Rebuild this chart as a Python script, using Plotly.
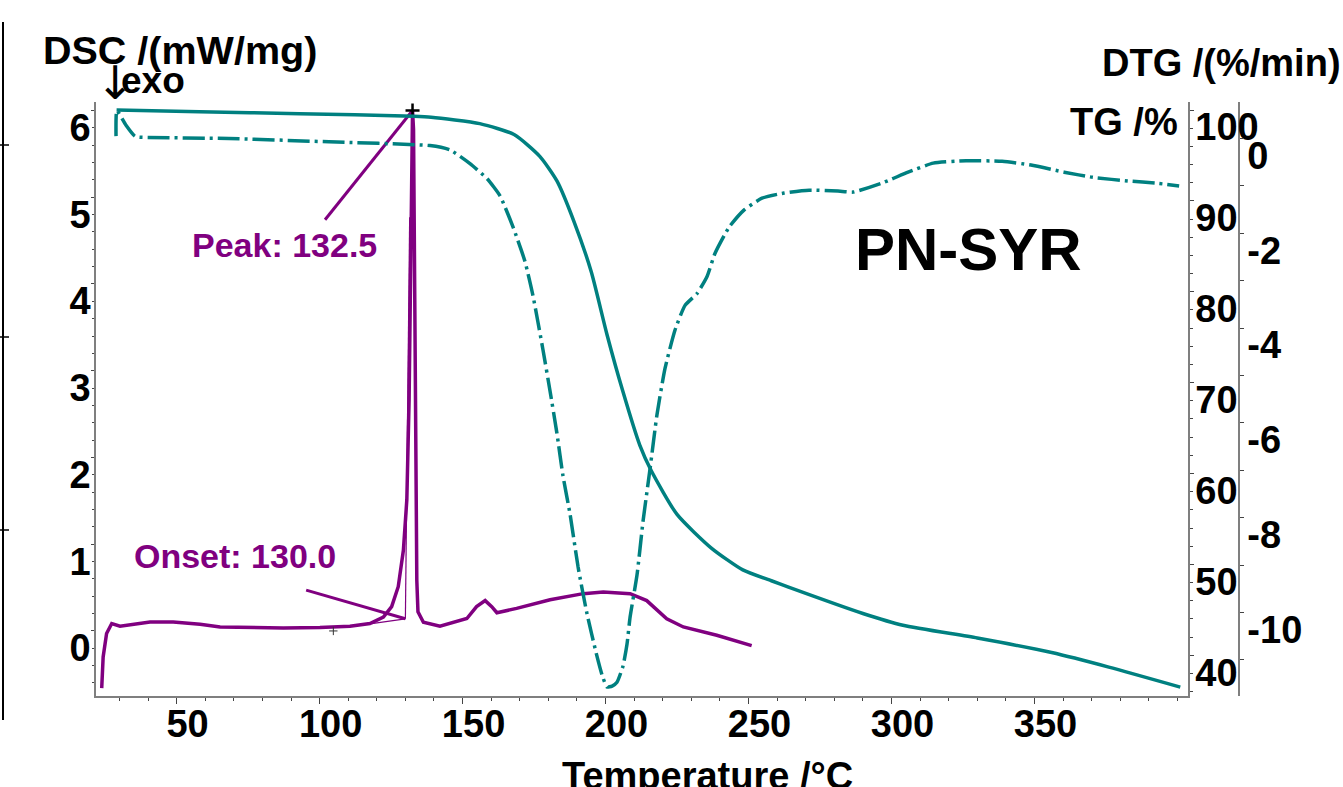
import plotly.graph_objects as go

# ---------------- data ----------------
temp_tg = [29, 58, 93, 133, 139, 156, 168, 177, 183, 189, 195, 200.5, 206, 212, 216,
           225, 237, 248, 258, 264, 290, 304, 330, 356, 376, 401]
tg = [100.0, 99.8, 99.6, 99.3, 99.2, 98.5, 97.3, 94.9, 92.2, 87.7, 82.2, 75.3, 69.1, 63.1, 60.3,
      55.5, 51.8, 49.4, 48.2, 47.5, 44.6, 43.3, 41.9, 40.3, 38.7, 36.5]

temp_dtg = [28.8, 29.1, 32.3, 35.4, 36.8, 68.3, 103.3, 138.6, 145.6, 152.6, 158.6, 163.1, 167.6,
            171.8, 174.6, 178.1, 180.6, 183.0, 185.1, 187.6, 190.4, 193.5, 197.0, 198.8, 200.5,
            202.3, 204.0, 206.1, 207.5, 208.6, 211.0, 213.1, 215.6, 218.0, 220.8, 224.3, 227.8,
            232.0, 235.5, 238.3, 243.2, 248.4, 254.7, 262.4, 271.2, 281.3, 286.6, 296.7, 305.8,
            314.6, 326.1, 338.7, 348.8, 360.4, 370.5, 383.5, 392.2, 400.6]
dtg = [0.05, 0.59, 0.28, 0.05, 0.03, 0.0, -0.07, -0.15, -0.24, -0.53, -0.85, -1.21, -1.86,
       -2.59, -3.31, -4.45, -5.33, -6.22, -7.11, -7.93, -9.04, -10.02, -10.92, -11.32, -11.57,
       -11.55, -11.47, -11.13, -10.67, -10.09, -9.21, -8.08, -6.95, -5.82, -4.85, -4.04, -3.52,
       -3.27, -2.91, -2.42, -1.87, -1.51, -1.26, -1.15, -1.09, -1.11, -1.13, -0.94, -0.71,
       -0.52, -0.47, -0.48, -0.56, -0.71, -0.82, -0.90, -0.94, -1.00]

temp_dsc = [23.8, 24.3, 25.5, 27.3, 30.2, 34.8, 40.7, 48.8, 58.2, 65.2, 75.6, 87.3, 100.1, 110.6,
            117.6, 122.3, 125.2, 127.5, 129.3, 130.5, 131.3, 131.8, 132.3, 132.5, 132.85, 133.2,
            133.6, 134.0, 134.4, 136.3, 142.1, 151.5, 154.9, 157.9, 160.2, 162.0, 168.9, 180.6,
            192.2, 199.2, 208.6, 214.4, 221.4, 227.2, 238.9, 251.1]
dsc = [-0.66, -0.30, -0.03, 0.085, 0.054, 0.077, 0.104, 0.104, 0.077, 0.046, 0.039, 0.035, 0.039,
       0.054, 0.085, 0.16, 0.28, 0.51, 0.93, 1.51, 2.66, 4.39, 5.78, 6.00, 5.78, 3.81, 1.51, 0.58,
       0.22, 0.10, 0.054, 0.143, 0.28, 0.35, 0.28, 0.21, 0.26, 0.36, 0.43, 0.45, 0.43, 0.35, 0.14,
       0.046, -0.05, -0.17]

# evaluation results (DSC)
onset_T, onset_dsc = 130.0, 0.14
peak_T, peak_dsc = 132.5, 6.00
onset_label_anchor = (95.3, 0.47)
peak_label_anchor = (101.9, 4.74)
baseline_tangent = ([118.2, 130.0], [0.085, 0.14])
inflection_tangent = ([130.0, 131.5], [0.14, 4.77])
range_marker = (104.8, 0.0)

x_ticks = [50, 100, 150, 200, 250, 300, 350]
x_ticktext = ["50", "100", "150", "200", "250", "300", "350"]
dsc_ticks = [0, 1, 2, 3, 4, 5, 6]
tg_ticks = [40, 50, 60, 70, 80, 90, 100]
dtg_ticks = [0, -2, -4, -6, -8, -10]
dtg_ticktext = ["0", "-2", "-4", "-6", "-8", "-10"]

TEAL = "#008080"
PURPLE = "#800080"
FONT = "Liberation Sans, Arial, sans-serif"
AXC = "#7f7f7f"

fig = go.Figure()

fig.add_trace(go.Scatter(x=temp_tg, y=tg, yaxis="y2", mode="lines",
                         line=dict(color=TEAL, width=3.5, shape="spline", smoothing=0.6),
                         hoverinfo="skip"))
fig.add_trace(go.Scatter(x=temp_dtg, y=dtg, yaxis="y3", mode="lines",
                         line=dict(color=TEAL, width=3.5, shape="spline", smoothing=0.5,
                                   dash="22px,5px,3px,5px"),
                         hoverinfo="skip"))
fig.add_trace(go.Scatter(x=temp_dsc, y=dsc, yaxis="y", mode="lines",
                         line=dict(color=PURPLE, width=3.5), hoverinfo="skip"))

# evaluation construction lines
fig.add_trace(go.Scatter(x=baseline_tangent[0], y=baseline_tangent[1], mode="lines",
                         line=dict(color=PURPLE, width=1.2), hoverinfo="skip"))
fig.add_trace(go.Scatter(x=inflection_tangent[0], y=inflection_tangent[1], mode="lines",
                         line=dict(color=PURPLE, width=1.2), hoverinfo="skip"))
fig.add_trace(go.Scatter(x=[onset_label_anchor[0], onset_T], y=[onset_label_anchor[1], onset_dsc],
                         mode="lines", line=dict(color=PURPLE, width=3), hoverinfo="skip"))
fig.add_trace(go.Scatter(x=[peak_label_anchor[0], peak_T], y=[peak_label_anchor[1], peak_dsc],
                         mode="lines", line=dict(color=PURPLE, width=3), hoverinfo="skip"))
fig.add_trace(go.Scatter(x=[peak_T], y=[peak_dsc], mode="markers",
                         marker=dict(symbol="cross-thin", size=10, line=dict(color="black", width=2.5)),
                         hoverinfo="skip"))
fig.add_trace(go.Scatter(x=[range_marker[0]], y=[range_marker[1]], mode="markers",
                         marker=dict(symbol="cross-thin", size=6, line=dict(color="#333", width=1)),
                         hoverinfo="skip"))

tickfont = dict(family=FONT, size=38, color="black", weight="bold")

# layout geometry (page pixels)
L, R, T, B = 96, 20, 102, 91
W = 1343 - L - R
H = 787 - T - B
def px(xp):
    return (xp - L) / W
def py(yp):
    return (787 - B - yp) / H

fig.update_layout(
    width=1343, height=787,
    margin=dict(l=L, r=R, t=T, b=B, autoexpand=False),
    paper_bgcolor="white", plot_bgcolor="white",
    showlegend=False,
    xaxis=dict(domain=[0, px(1188)], range=[21.8, 403.7],
               tickmode="array", tickvals=x_ticks, ticktext=x_ticktext,
               ticks="outside", ticklen=6, tickwidth=1, tickcolor="#444",
               minor=dict(tickmode="array", tickvals=list(range(30, 401, 10)),
                          ticks="outside", ticklen=3, tickcolor="#444"),
               showline=True, linecolor=AXC, linewidth=1.5, showgrid=False, zeroline=False,
               tickfont=tickfont, ticklabelshift=11, ticklabelstandoff=-12),
    yaxis=dict(range=[-0.75, 6.098], tickmode="array", tickvals=dsc_ticks,
               ticks="outside", ticklen=3, tickcolor="#444",
               minor=dict(dtick=0.2, ticks="outside", ticklen=2, tickcolor="#444"),
               showline=True, linecolor=AXC, linewidth=1.5, showgrid=False, zeroline=False,
               tickfont=tickfont, ticklabelshift=17, ticklabelstandoff=-7),
    yaxis2=dict(overlaying="y", side="right", anchor="x", range=[35.52, 100.88],
                tickmode="array", tickvals=tg_ticks,
                ticks="outside", ticklen=4, tickcolor="#444",
                minor=dict(dtick=2, ticks="outside", ticklen=3, tickcolor="#444"),
                showline=True, linecolor=AXC, linewidth=1.5, showgrid=False, zeroline=False,
                tickfont=tickfont, ticklabelshift=17, ticklabelstandoff=-6),
    yaxis3=dict(overlaying="y", side="right", anchor="free", position=px(1239),
                range=[-11.76, 0.77], tickmode="array", tickvals=dtg_ticks, ticktext=dtg_ticktext,
                ticks="outside", ticklen=4, tickcolor="#444",
                minor=dict(tickmode="array", tickvals=[-1, -3, -5, -7, -9, -11],
                           ticks="outside", ticklen=4, tickcolor="#444"),
                showline=True, linecolor=AXC, linewidth=1.5, showgrid=False, zeroline=False,
                tickfont=tickfont, ticklabelshift=17, ticklabelstandoff=-4),
)

def label(text, x, y, size, color="black", xanchor="center", yanchor="middle"):
    fig.add_annotation(text=text, xref="paper", yref="paper", x=px(x), y=py(y),
                       xanchor=xanchor, yanchor=yanchor, showarrow=False,
                       font=dict(family=FONT, size=size, color=color, weight="bold"))

label("DSC /(mW/mg)", 41, 50, 39.5, xanchor="left")
label("exo", 119, 80, 37, xanchor="left")
fig.add_annotation(text="↓", xref="paper", yref="paper", x=px(115), y=py(83), showarrow=False,
                   xanchor="center", yanchor="middle",
                   font=dict(family="DejaVu Sans", size=46, color="black"))
label("DTG /(%/min)", 1100, 63, 38, xanchor="left")
label("TG /%", 1180, 122, 38, xanchor="right")
label("PN-SYR", 968, 249, 60)
label("Peak: 132.5", 284, 245, 34, color=PURPLE)
label("Onset: 130.0", 235, 556, 34, color=PURPLE)
label("Temperature /°C", 707, 776, 38)

# stray frame edge at far left of the reference image
fig.add_shape(type="line", xref="paper", yref="paper", x0=px(3), x1=px(3), y0=py(22), y1=py(720),
              line=dict(color="black", width=2))
for yy in (145, 337, 530):
    fig.add_shape(type="line", xref="paper", yref="paper", x0=px(0), x1=px(9), y0=py(yy), y1=py(yy),
                  line=dict(color="black", width=1.5))

fig.write_html("out.html", config={"displayModeBar": False},
               post_script="document.body.style.margin='0px';document.body.style.overflow='hidden';")
